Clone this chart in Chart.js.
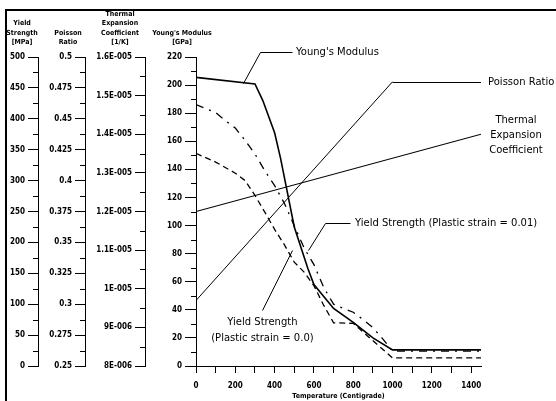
<!DOCTYPE html>
<html>
<head>
<meta charset="utf-8">
<script src="https://cdn.jsdelivr.net/npm/chart.js@4.4.1/dist/chart.umd.min.js"></script>
<style>
  html, body { margin: 0; padding: 0; background: #fff; }
  #wrap { position: relative; width: 556px; height: 401px; overflow: hidden; }
  #chart { position: absolute; left: 0; top: 0; }
  #frame {
    position: absolute; left: 5px; top: 9px; width: 700px; height: 600px;
    border-left: 2px solid #000; border-top: 2px solid #000; pointer-events: none;
  }
</style>
</head>
<body>
<div id="wrap">
  <canvas id="chart" width="556" height="401"></canvas>
  <div id="frame"></div>
</div>
<script>
// Temperature axis (Centigrade)
const TEMP_MAJOR = [0, 200, 400, 600, 800, 1000, 1200, 1400];
const TEMP_ALL = [0, 100, 200, 300, 400, 500, 600, 700, 800, 900, 1000, 1100, 1200, 1300, 1400];

// Young's Modulus [GPa]
const YOUNG_T = [0, 300, 340, 400, 430, 460, 500, 570, 600, 700, 800, 900, 1000, 1450];
const YOUNG_E = [205.5, 200.8, 189, 166, 148, 127, 99, 69, 58, 41, 31, 20, 11.5, 11.5];

// Yield Strength (Plastic strain = 0.01) [MPa]
const Y01_T = [0, 100, 150, 200, 250, 300, 350, 400, 450, 500, 550, 600, 650, 700, 750, 800, 850, 900, 950, 1000, 1450];
const Y01_V = [423, 410, 397, 385, 365, 343, 316, 292, 263, 227, 191, 164, 127, 100, 93, 87, 75, 62, 44, 24, 24];

// Yield Strength (Plastic strain = 0.0) [MPa]
const Y00_T = [0, 100, 200, 250, 300, 350, 400, 450, 500, 550, 600, 650, 700, 800, 1000, 1450];
const Y00_V = [344, 330, 312, 300, 276, 249, 221, 196, 168, 152, 130, 98, 70, 69, 13, 13];

// Poisson Ratio
const POIS_T = [0, 1000];
const POIS_V = [0.303, 0.48];

// Thermal Expansion Coefficient [1/K]
const THERM_T = [0, 1450];
const THERM_V = [1.2e-5, 1.4e-5];

// tick values / labels of the four vertical axes
const YIELD_TICKS = [0, 50, 100, 150, 200, 250, 300, 350, 400, 450, 500];
const YIELD_LABELS = ['0', '50', '100', '150', '200', '250', '300', '350', '400', '450', '500'];
const POIS_TICKS = [0.25, 0.275, 0.3, 0.325, 0.35, 0.375, 0.4, 0.425, 0.45, 0.475, 0.5];
const POIS_LABELS = ['0.25', '0.275', '0.3', '0.325', '0.35', '0.375', '0.4', '0.425', '0.45', '0.475', '0.5'];
const THERM_TICKS = [8e-6, 9e-6, 1e-5, 1.1e-5, 1.2e-5, 1.3e-5, 1.4e-5, 1.5e-5, 1.6e-5];
const THERM_LABELS = ['8E-006', '9E-006', '1E-005', '1.1E-005', '1.2E-005', '1.3E-005', '1.4E-005', '1.5E-005', '1.6E-005'];
const YOUNG_TICKS = [0, 20, 40, 60, 80, 100, 120, 140, 160, 180, 200, 220];
const YOUNG_LABELS = ['0', '20', '40', '60', '80', '100', '120', '140', '160', '180', '200', '220'];

const TICK_FONT = { family: '"DejaVu Sans Condensed", "DejaVu Sans", sans-serif', size: 8, weight: 'bold' };
const SMALL_BOLD = 'bold 7px "DejaVu Sans Condensed", "DejaVu Sans", sans-serif';
const NOTE_FONT = '10px "DejaVu Sans", sans-serif';

function zip(xs, ys) {
  return xs.map((x, i) => ({ x, y: ys[i] }));
}

function leftAxis(min, max, ticks, labels, width, weight, tickLen) {
  return {
    type: 'linear',
    position: 'left',
    min, max, weight,
    afterBuildTicks: s => { s.ticks = ticks.map(v => ({ value: v })); },
    afterFit: s => { s.width = width; s.paddingTop = 0; s.paddingBottom = 0; },
    grid: { drawOnChartArea: false, drawTicks: true, tickLength: tickLen, color: '#000', lineWidth: 1 },
    border: { display: true, color: '#000', width: 1 },
    ticks: { color: '#000', padding: 3, autoSkip: false, font: TICK_FONT, callback: (v, i) => labels[i] }
  };
}

// axis id -> [major ticks, title lines, title centre offset from axis line]
const AXIS_DECOR = {
  yYield: [YIELD_TICKS, ['Yield', 'Strength', '[MPa]'], -16],
  yPois: [POIS_TICKS, ['Poisson', 'Ratio'], -17],
  yTherm: [THERM_TICKS, ['Thermal', 'Expansion', 'Coefficient', '[1/K]'], -25],
  yYoung: [YOUNG_TICKS, ["Young's Modulus", '[GPa]'], -14]
};

const decorPlugin = {
  id: 'decor',
  afterDraw(chart) {
    const ctx = chart.ctx;
    const sx = chart.scales.x;
    const sy = chart.scales.yYoung;
    const px = v => sx.getPixelForValue(v);
    const py = v => sy.getPixelForValue(v);
    ctx.save();
    ctx.strokeStyle = '#000';
    ctx.fillStyle = '#000';
    ctx.lineWidth = 1;

    // minor ticks + axis titles
    Object.keys(AXIS_DECOR).forEach(id => {
      const s = chart.scales[id];
      const [ticks, title, off] = AXIS_DECOR[id];
      const xr = s.right + 0.5;
      for (let i = 0; i < ticks.length - 1; i++) {
        const y = Math.round(s.getPixelForValue((ticks[i] + ticks[i + 1]) / 2)) + 0.5;
        ctx.beginPath();
        ctx.moveTo(xr - 5.5, y);
        ctx.lineTo(xr, y);
        ctx.stroke();
      }
      ctx.font = SMALL_BOLD;
      ctx.textAlign = 'center';
      ctx.textBaseline = 'middle';
      const n = title.length;
      title.forEach((t, i) => ctx.fillText(t, s.right + off, 42 - (n - 1 - i) * 9.3));
    });

    // x axis title
    ctx.font = SMALL_BOLD;
    ctx.textAlign = 'center';
    ctx.textBaseline = 'middle';
    ctx.fillText('Temperature (Centigrade)', (chart.chartArea.left + chart.chartArea.right) / 2, 396);

    // leader lines
    const leader = pts => {
      ctx.beginPath();
      pts.forEach(([t, e], i) => {
        const x = Math.round(px(t)) + 0.5, y = Math.round(py(e)) + 0.5;
        if (i) ctx.lineTo(x, y); else ctx.moveTo(x, y);
      });
      ctx.stroke();
    };
    leader([[239, 201.5], [325, 223.6], [488, 223.6]]);
    leader([[571, 82.6], [656, 101.6], [783, 101.6]]);
    leader([[336, 40], [488, 82.6]]);
    const yp = chart.scales.yPois;
    const poisY = Math.round(yp.getPixelForValue(POIS_V[POIS_V.length - 1])) + 0.5;
    ctx.beginPath();
    ctx.moveTo(px(POIS_T[POIS_T.length - 1]), poisY);
    ctx.lineTo(px(1450), poisY);
    ctx.stroke();

    // labels
    ctx.font = NOTE_FONT;
    ctx.textAlign = 'left';
    ctx.fillText("Young's Modulus", px(509), py(223.6));
    ctx.fillText('Yield Strength (Plastic strain = 0.01)', px(809), py(101.6));
    ctx.fillText('Poisson Ratio', px(1486), poisY);
    ctx.textAlign = 'center';
    ctx.fillText('Thermal', px(1628), py(164.1) - 15);
    ctx.fillText('Expansion', px(1628), py(164.1));
    ctx.fillText('Coefficient', px(1628), py(164.1) + 15);
    ctx.fillText('Yield Strength', px(338), py(30.8));
    ctx.fillText('(Plastic strain = 0.0)', px(338), py(19.7));
    ctx.restore();
  }
};

new Chart(document.getElementById('chart'), {
  type: 'line',
  data: {
    datasets: [
      { label: 'Poisson Ratio', data: zip(POIS_T, POIS_V), yAxisID: 'yPois', borderColor: '#000', borderWidth: 1 },
      { label: 'Thermal Expansion Coefficient', data: zip(THERM_T, THERM_V), yAxisID: 'yTherm', borderColor: '#000', borderWidth: 1.2 },
      { label: 'Yield Strength (Plastic strain = 0.0)', data: zip(Y00_T, Y00_V), yAxisID: 'yYield', borderColor: '#000', borderWidth: 1.3, borderDash: [6, 4] },
      { label: 'Yield Strength (Plastic strain = 0.01)', data: zip(Y01_T, Y01_V), yAxisID: 'yYield', borderColor: '#000', borderWidth: 1.3, borderDash: [8, 6, 2, 6] },
      { label: "Young's Modulus", data: zip(YOUNG_T, YOUNG_E), yAxisID: 'yYoung', borderColor: '#000', borderWidth: 1.6 }
    ]
  },
  options: {
    responsive: false,
    maintainAspectRatio: false,
    animation: false,
    layout: { padding: { left: 6, top: 57, right: 75, bottom: 5 } },
    elements: { point: { radius: 0 }, line: { tension: 0, fill: false } },
    plugins: { legend: { display: false }, tooltip: { enabled: false } },
    scales: {
      x: {
        type: 'linear',
        position: 'bottom',
        min: 0,
        max: 1450,
        afterBuildTicks: s => { s.ticks = TEMP_ALL.map(v => ({ value: v })); },
        afterFit: s => { s.height = 30; s.paddingLeft = 0; s.paddingRight = 0; },
        grid: { drawOnChartArea: false, drawTicks: true, tickLength: 7, color: '#000', lineWidth: 1 },
        border: { display: true, color: '#000', width: 1 },
        ticks: {
          color: '#000', padding: 8, autoSkip: false, maxRotation: 0, font: TICK_FONT,
          callback: v => (TEMP_MAJOR.indexOf(v) >= 0 ? String(v) : '')
        }
      },
      yYoung: leftAxis(0, 220, YOUNG_TICKS, YOUNG_LABELS, 51, 1, 11),
      yTherm: leftAxis(8e-6, 1.6e-5, THERM_TICKS, THERM_LABELS, 60, 2, 10),
      yPois: leftAxis(0.25, 0.5, POIS_TICKS, POIS_LABELS, 47, 3, 10),
      yYield: leftAxis(0, 500, YIELD_TICKS, YIELD_LABELS, 32, 4, 10)
    }
  },
  plugins: [decorPlugin]
});
</script>
</body>
</html>
